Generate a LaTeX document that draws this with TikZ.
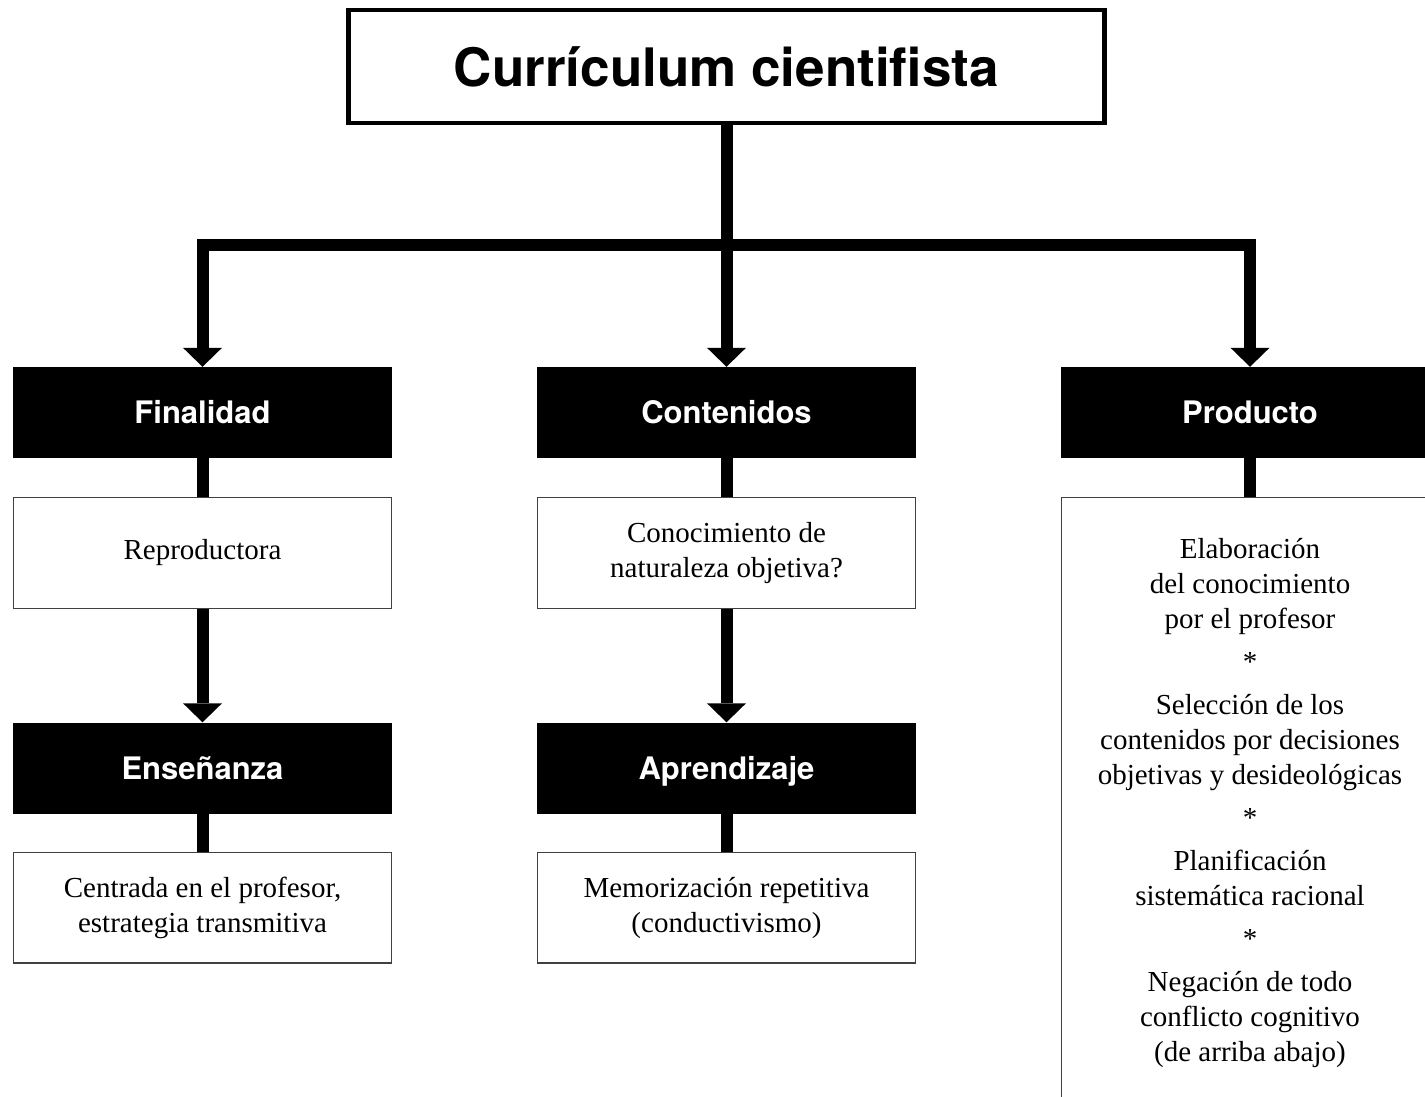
\documentclass[tikz,border=0pt]{standalone}
\usepackage{fontspec}
\setmainfont{Liberation Serif}
\newfontfamily\heros{TeX Gyre Heros}
\usetikzlibrary{arrows.meta}
\begin{document}
\begin{tikzpicture}[x=1pt,y=-1pt,
  >={Triangle[width=39pt,length=19pt,line width=0pt]},
  titlebox/.style={rectangle, draw=black, line width=4.5pt, fill=white,
    minimum width=756pt, minimum height=113pt, inner sep=0pt,
    font=\heros\bfseries\fontsize{53}{60}\selectfont},
  blackbox/.style={rectangle, fill=black, draw=none, minimum width=379pt,
    minimum height=91pt, inner sep=0pt, text=white, text height=22pt, text depth=0pt,
    font=\heros\bfseries\fontsize{31}{36}\selectfont},
  whitebox/.style={rectangle, draw=black!75, line width=1.3pt, fill=white,
    minimum width=377.7pt, minimum height=110.7pt, inner sep=0pt, align=center,
    font=\fontsize{29}{35}\selectfont},
  fat/.style={line width=12pt},
]
\useasboundingbox (0,0) rectangle (1425,1096);
\fill[white] (0,0) rectangle (1425,1096);

\node[titlebox] (title) at (726.5,66.5) {Currículum cientifista};

\node[blackbox] (fin)  at (202.5,412.5) {Finalidad};
\node[blackbox] (cont) at (726.5,412.5) {Contenidos};
\node[blackbox] (prod) at (1250,412.5) {Producto};

\node[whitebox] (rep) at (202.5,553) {Reproductora};
\node[whitebox] (con) at (726.5,553) {Conocimiento de\\naturaleza objetiva?};

\node[blackbox] (ens) at (202.5,768) {Enseñanza};
\node[blackbox] (apr) at (726.5,768) {Aprendizaje};

\node[whitebox] (cen) at (202.5,907.5) {Centrada en el profesor,\\estrategia transmitiva};
\node[whitebox] (mem) at (726.5,907.5) {Memorización repetitiva\\(conductivismo)};

\node[whitebox, anchor=north, minimum height=610pt] (prodtxt) at (1250,497)
  {Elaboración\\del conocimiento\\por el profesor\\[8pt]*\\[8pt]Selección de los\\contenidos por decisiones\\objetivas y desideológicas\\[8pt]*\\[8pt]Planificación\\sistemática racional\\[8pt]*\\[8pt]Negación de todo\\conflicto cognitivo\\(de arriba abajo)};

\coordinate (bus) at (726.5,245);
\draw[fat,->] (title.south) -- (cont.north);
\draw[fat,<->] (fin.north) |- (bus) -| (prod.north);

\draw[fat] (fin.south) -- (rep.north);
\draw[fat] (cont.south) -- (con.north);
\draw[fat] (prod.south) -- (prodtxt.north);

\draw[fat,->] (rep.south) -- (ens.north);
\draw[fat,->] (con.south) -- (apr.north);

\draw[fat] (ens.south) -- (cen.north);
\draw[fat] (apr.south) -- (mem.north);
\end{tikzpicture}
\end{document}
